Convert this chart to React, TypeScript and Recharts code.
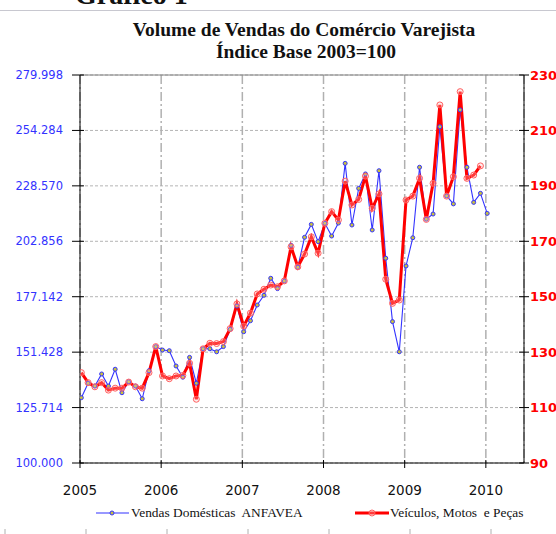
import React from "react";
import { CartesianGrid, Legend, Line, LineChart, ReferenceLine, XAxis, YAxis } from "recharts";

// monthly series, Jan 2005 onward
const anfavea = [
  130.3, 137.0, 135.7, 141.3, 135.7, 143.5, 132.6, 137.7, 135.7, 129.8, 142.8, 154.0,
  152.4, 152.1, 145.0, 139.8, 149.0, 137.0, 153.0, 153.0, 151.6, 154.0, 162.0, 172.8,
  160.9, 166.0, 173.3, 177.8, 185.7, 180.9, 184.4, 201.0, 190.8, 204.7, 210.7, 202.7,
  211.2, 205.3, 211.3, 239.0, 210.4, 227.4, 234.1, 208.1, 235.6, 195.0, 165.6, 151.6,
  191.4, 204.5, 237.2, 213.1, 215.5, 256.0, 223.9, 220.2, 263.8, 237.2, 220.9, 225.1,
  215.8,
];
const veiculos = [
  122.6, 119.0, 117.5, 119.0, 116.3, 117.0, 117.0, 119.2, 117.5, 117.0, 122.6, 132.0,
  121.4, 120.4, 121.4, 121.6, 126.0, 113.0, 131.2, 133.2, 133.1, 133.8, 138.5, 147.4,
  139.4, 144.1, 151.0, 152.7, 154.2, 153.6, 155.7, 168.0, 160.8, 165.4, 171.6, 165.7,
  176.5, 180.7, 177.7, 191.7, 183.1, 185.1, 193.5, 181.9, 187.1, 156.3, 147.6, 148.8,
  184.9, 186.3, 192.7, 177.9, 190.9, 219.2, 186.3, 193.3, 224.0, 192.7, 193.9, 197.2,
];
const years = [2005, 2006, 2007, 2008, 2009, 2010];
const leftTicks = [100, 125.714, 151.428, 177.142, 202.856, 228.57, 254.284, 279.998];
const rightTicks = [90, 110, 130, 150, 170, 190, 210, 230];

const data = anfavea.map((v, i) => ({
  t: 2005 + (i + 0.2) / 12,
  anfavea: v,
  veiculos: i < veiculos.length ? veiculos[i] : null,
}));

const sans = "DejaVu Sans";
const serif = "Liberation Serif";

const XTick = ({ x, y, payload }: any) => (
  <g>
    <line x1={x} x2={x} y1={y - 3} y2={y + 5} stroke="#000" />
    <text x={x} y={y + 32} textAnchor="middle" fontSize={13.5} fontFamily={sans} fill="#111">
      {payload.value}
    </text>
  </g>
);

const LeftTick = ({ x, y, payload }: any) => (
  <g>
    <line x1={x - 8} x2={x + 4} y1={y} y2={y} stroke="#000" />
    <text x={x - 17} y={y + 4} textAnchor="end" fontSize={11.5} fontFamily={sans} fill="#3333ff">
      {payload.value.toFixed(3)}
    </text>
  </g>
);

const RightTick = ({ x, y, payload }: any) => (
  <g>
    <line x1={x - 5} x2={x + 5} y1={y} y2={y} stroke="#000" />
    <text x={x + 6} y={y + 4.5} textAnchor="start" fontSize={13} fontWeight="bold" fontFamily={sans} fill="#ff0000">
      {payload.value}
    </text>
  </g>
);

const LegendBox = () => (
  <div style={{ width: 556, height: 22 }}>
    <svg width={556} height={22}>
      <line x1={96} x2={129} y1={11} y2={11} stroke="#3333ff" strokeWidth={1.2} />
      <circle cx={112} cy={11} r={2} stroke="#3333ff" fill="#c8c040" />
      <text x={131} y={15} fontSize={13.4} fontFamily={serif} fill="#111" style={{ whiteSpace: "pre" }}>
        {"Vendas Domésticas  ANFAVEA"}
      </text>
      <line x1={355} x2={389} y1={11} y2={11} stroke="#ff0000" strokeWidth={3} />
      <circle cx={372} cy={11} r={3} stroke="#ff6060" fill="#ffc0c0" fillOpacity={0.3} />
      <text x={390} y={15} fontSize={13.4} fontFamily={serif} fill="#111" style={{ whiteSpace: "pre" }}>
        {"Veículos, Motos  e Peças"}
      </text>
    </svg>
  </div>
);

export default function App() {
  return (
    <div style={{ position: "absolute", left: 0, top: 0, width: 556, height: 534, background: "#fff", overflow: "hidden" }}>
      <LineChart width={556} height={534} data={data} margin={{ top: 75, right: 0, bottom: 10, left: 0 }}>
        <CartesianGrid yAxisId="l" vertical={false} stroke="#b4b4b4" strokeDasharray="3 2" />
        <CartesianGrid yAxisId="l" horizontal={false} stroke="#b0b0b0" strokeWidth={1.5} strokeDasharray="9 3 2 3" />
        <XAxis
          dataKey="t"
          type="number"
          domain={[2005, 2010.47]}
          ticks={years}
          allowDataOverflow
          height={39}
          stroke="#000"
          tickSize={0}
          tickMargin={0}
          tickLine={false}
          tick={XTick}
        />
        <YAxis
          yAxisId="l"
          width={80}
          domain={[100, 279.998]}
          ticks={leftTicks}
          allowDataOverflow
          stroke="#000"
          tickSize={0}
          tickMargin={0}
          tickLine={false}
          tick={LeftTick}
        />
        <YAxis
          yAxisId="r"
          orientation="right"
          width={32}
          domain={[90, 230]}
          ticks={rightTicks}
          allowDataOverflow
          stroke="#000"
          tickSize={0}
          tickMargin={0}
          tickLine={false}
          tick={RightTick}
        />
        <ReferenceLine yAxisId="l" y={279.998} stroke="#808080" />
        <Legend verticalAlign="bottom" content={LegendBox} />
        <Line
          yAxisId="l"
          type="linear"
          dataKey="anfavea"
          stroke="#3333ff"
          strokeWidth={1.1}
          dot={{ r: 2, stroke: "#3333ff", strokeWidth: 1, fill: "#c8c040" }}
          isAnimationActive={false}
        />
        <Line
          yAxisId="r"
          type="linear"
          dataKey="veiculos"
          stroke="#ff0000"
          strokeWidth={3}
          dot={{ r: 3, stroke: "#ff6060", strokeWidth: 1, fill: "#ffc0c0", fillOpacity: 0.3 }}
          isAnimationActive={false}
        />
      </LineChart>
      <svg width={556} height={534} style={{ position: "absolute", left: 0, top: 0, pointerEvents: "none" }}>
        <text x={75} y={4} fontSize={28} fontWeight="bold" fontFamily={serif} fill="#111">
          Gráfico 1
        </text>
        <line x1={0} x2={556} y1={10.5} y2={10.5} stroke="#c8c8d0" />
        <text x={304} y={36} textAnchor="middle" fontSize={19.5} fontWeight="bold" fontFamily={serif} fill="#111">
          Volume de Vendas do Comércio Varejista
        </text>
        <text x={306} y={58} textAnchor="middle" fontSize={19.5} fontWeight="bold" fontFamily={serif} fill="#111">
          Índice Base 2003=100
        </text>
        {[5, 86, 167, 248, 329, 410, 491].map((x) => (
          <line key={x} x1={x} x2={x} y1={529} y2={534} stroke="#b0b0b0" />
        ))}
      </svg>
    </div>
  );
}
